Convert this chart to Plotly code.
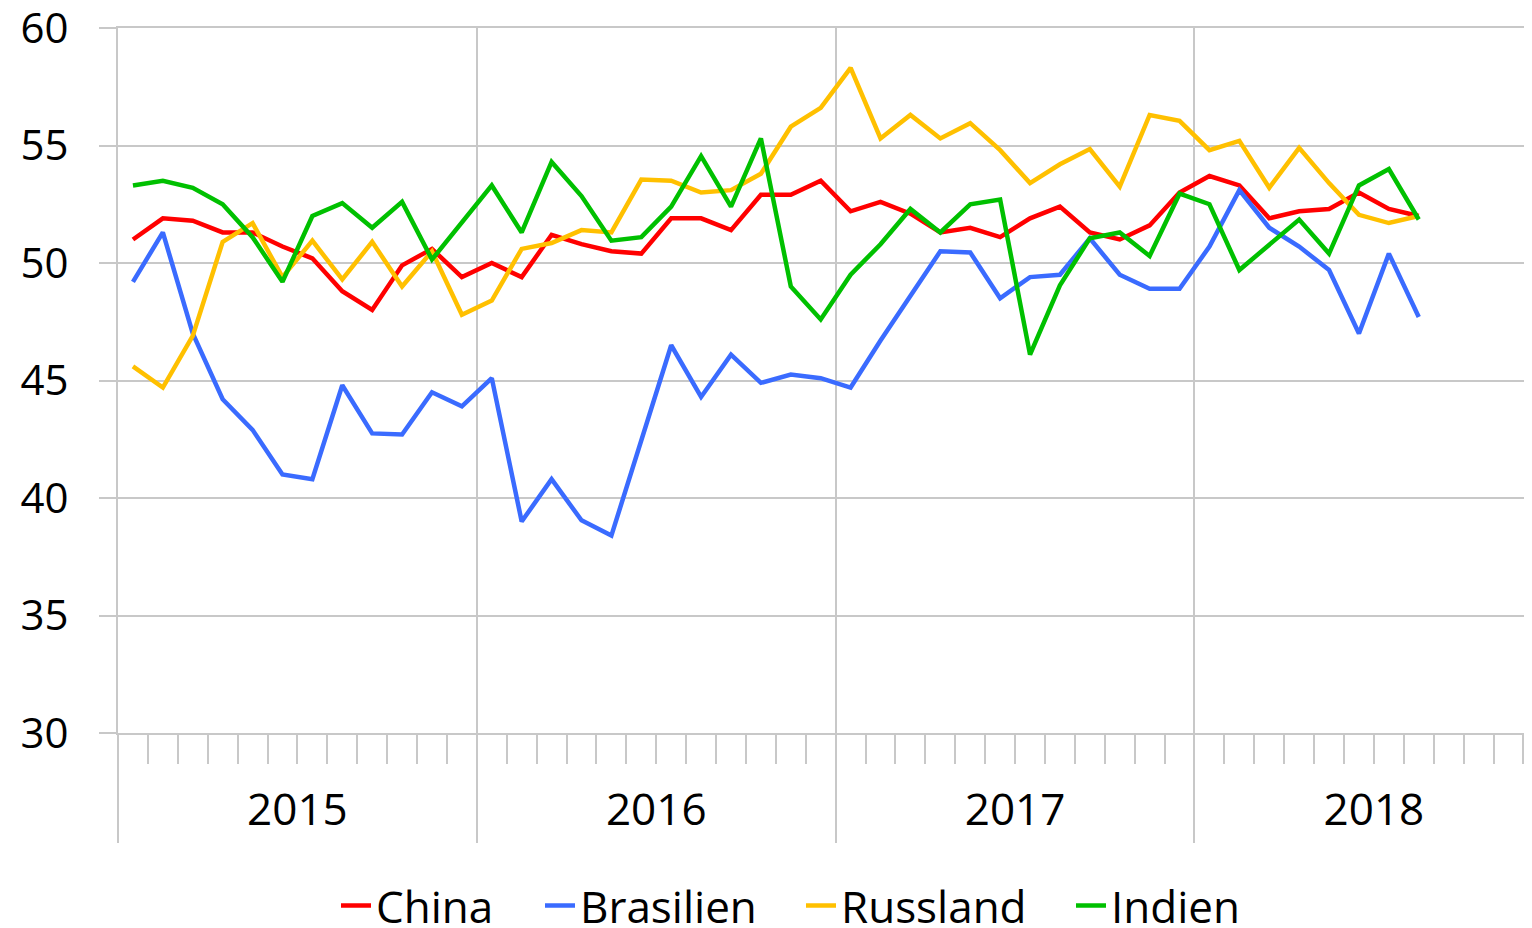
import plotly.graph_objects as go

# Monthly index: 0 = Jan 2015 ... 43 = Aug 2018
months = list(range(44))

china = [51.0, 51.9, 51.8, 51.3, 51.3, 50.7, 50.2, 48.8, 48.0, 49.9, 50.6, 49.4,
         50.0, 49.4, 51.2, 50.8, 50.5, 50.4, 51.9, 51.9, 51.4, 52.9, 52.9, 53.5,
         52.2, 52.6, 52.1, 51.3, 51.5, 51.1, 51.9, 52.4, 51.3, 51.0, 51.6, 53.0,
         53.7, 53.3, 51.9, 52.2, 52.3, 53.0, 52.3, 52.0]
brasilien = [49.2, 51.3, 47.0, 44.2, 42.9, 41.0, 40.8, 44.8, 42.75, 42.7, 44.5, 43.9,
             45.1, 39.0, 40.8, 39.05, 38.4, 42.4, 46.5, 44.3, 46.1, 44.9, 45.25, 45.1,
             44.7, 46.7, 48.6, 50.5, 50.45, 48.5, 49.4, 49.5, 51.05, 49.5, 48.9, 48.9,
             50.7, 53.1, 51.5, 50.7, 49.7, 47.0, 50.4, 47.7]
russland = [45.6, 44.7, 46.9, 50.9, 51.7, 49.4, 50.95, 49.3, 50.9, 49.0, 50.5, 47.8,
            48.4, 50.6, 50.85, 51.4, 51.3, 53.55, 53.5, 53.0, 53.1, 53.8, 55.8, 56.6,
            58.3, 55.3, 56.3, 55.3, 55.95, 54.8, 53.4, 54.2, 54.85, 53.25, 56.3, 56.05,
            54.8, 55.2, 53.2, 54.9, 53.4, 52.05, 51.7, 52.0]
indien = [53.3, 53.5, 53.2, 52.5, 51.1, 49.2, 52.0, 52.55, 51.5, 52.6, 50.15, 51.7,
          53.3, 51.3, 54.3, 52.85, 50.95, 51.1, 52.4, 54.55, 52.4, 55.3, 49.0, 47.6,
          49.5, 50.8, 52.3, 51.3, 52.5, 52.7, 46.1, 49.05, 51.05, 51.3, 50.3, 52.95,
          52.5, 49.7, 50.8, 51.85, 50.4, 53.3, 54.0, 51.85]

series_names = ["China", "Brasilien", "Russland", "Indien"]
series_colors = ["#ff0000", "#3a6bff", "#ffc000", "#00c000"]

year_labels = ["2015", "2016", "2017", "2018"]
year_centers = [5.5, 17.5, 29.5, 41.5]
year_bounds = [-0.5, 11.5, 23.5, 35.5, 47.5]
y_ticks = [30, 35, 40, 45, 50, 55, 60]

GRID = "#c8c8c8"
FONT = "Open Sans"
# the page body adds an 8px offset, so the figure is sized to end at the window edge
W, H = 1524, 920
X_RANGE = [-0.5, 46.72]  # the 2018 block runs past the right edge of the view

# left pixel positions (figure coords) of the four legend entries
legend_left_px = [328, 532, 793, 1063]
legend_keys = ["legend", "legend2", "legend3", "legend4"]

fig = go.Figure()
for name, vals, col, lk in zip(series_names, [china, brasilien, russland, indien],
                               series_colors, legend_keys):
    fig.add_trace(go.Scatter(x=months, y=vals, name=name, mode="lines",
                             line=dict(color=col, width=4.5), legend=lk))

# invisible helper trace for the year-label axis
fig.add_trace(go.Scatter(x=year_centers, y=[30] * 4, xaxis="x2", mode="markers",
                         marker=dict(opacity=0), showlegend=False, hoverinfo="skip"))

legend_layouts = {}
for lk, px in zip(legend_keys, legend_left_px):
    legend_layouts[lk] = dict(
        orientation="h", xref="container", yref="container",
        x=px / W, xanchor="left", y=22 / H, yanchor="middle",
        font=dict(family=FONT, size=44, color="#000000"),
        bgcolor="rgba(0,0,0,0)",
    )

fig.update_layout(
    width=W, height=H,
    margin=dict(l=110, r=2, t=20, b=195, autoexpand=False),
    paper_bgcolor="white", plot_bgcolor="white",
    font=dict(family=FONT, size=42, color="#000000"),
    xaxis=dict(
        range=X_RANGE, tickmode="array", tickvals=year_bounds,
        ticktext=[""] * len(year_bounds),
        ticks="outside", ticklen=108, tickwidth=2, tickcolor=GRID,
        showgrid=True, gridcolor=GRID, gridwidth=2,
        zeroline=False, showline=True, linecolor=GRID, linewidth=2, mirror=True,
        automargin=False,
        minor=dict(tick0=-0.5, dtick=1, ticks="outside", ticklen=29,
                   tickwidth=2, tickcolor=GRID, showgrid=False),
    ),
    xaxis2=dict(
        range=X_RANGE, overlaying="x", anchor="y", side="bottom",
        tickmode="array", tickvals=year_centers, ticktext=year_labels,
        ticks="outside", ticklen=38, tickcolor="rgba(0,0,0,0)",
        showgrid=False, zeroline=False, showline=False, automargin=False,
        ticklabeloverflow="allow",
        tickfont=dict(family=FONT, size=44, color="#000000"),
    ),
    yaxis=dict(
        range=[30, 60], tickmode="array", tickvals=y_ticks,
        ticks="outside", ticklen=17, tickwidth=2, tickcolor=GRID,
        showgrid=True, gridcolor=GRID, gridwidth=2,
        zeroline=False, showline=True, linecolor=GRID, linewidth=2,
        ticklabelstandoff=22, automargin=False, ticklabeloverflow="allow",
        tickfont=dict(family=FONT, size=42, color="#000000"),
    ),
    showlegend=True,
    **legend_layouts,
)

fig.write_html("out.html")
